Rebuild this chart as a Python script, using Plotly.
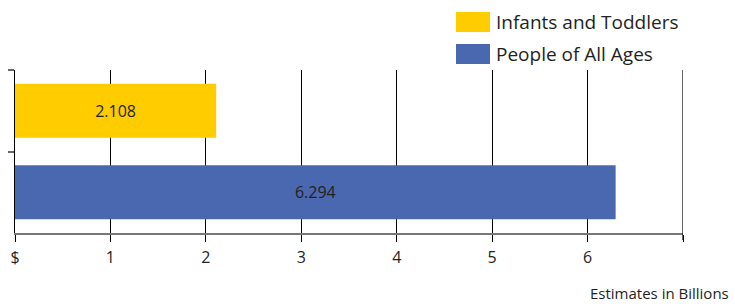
import plotly.graph_objects as go

categories = ["Infants and Toddlers", "People of All Ages"]
values = [2.108, 6.294]
colors = ["#FFCC00", "#4A68B0"]
x_ticks = [0, 1, 2, 3, 4, 5, 6, 7]
x_tick_labels = ["$", "1", "2", "3", "4", "5", "6", ""]

FONT = "Open Sans"
TXT = "#231F20"

L, R, T, B = 15, 52, 70, 71
W, H = 735, 304
PW, PH = W - L - R, H - T - B

fig = go.Figure()
fig.add_trace(go.Bar(
    y=categories, x=values, orientation="h",
    marker=dict(color=colors, line=dict(width=0)),
    text=[f"{v:.3f}" for v in values],
    textposition="inside", insidetextanchor="middle",
    textfont=dict(family=FONT, size=16, color=TXT),
    showlegend=False, hoverinfo="skip",
))

fig.update_layout(
    width=W, height=H,
    margin=dict(l=L, r=R, t=T, b=B, autoexpand=False),
    paper_bgcolor="white", plot_bgcolor="white",
    bargap=0.34,
    font=dict(family=FONT, size=16, color=TXT),
    xaxis=dict(
        range=[x_ticks[0], x_ticks[-1]], tickvals=x_ticks, ticktext=x_tick_labels,
        showgrid=True, gridcolor="black", gridwidth=1,
        zeroline=False,
        showline=True, linecolor="#777777", linewidth=2,
        ticks="outside", ticklen=7, tickcolor="black", tickwidth=1,
        tickfont=dict(family=FONT, size=16, color=TXT),
        ticklabelstandoff=2,
        automargin=False,
    ),
    yaxis=dict(
        type="category", autorange="reversed",
        tickson="boundaries", ticks="outside", ticklen=6,
        tickcolor="#666666", tickwidth=2,
        showticklabels=False, showgrid=False,
        showline=True, linecolor="black", linewidth=1,
        automargin=False,
    ),
)

# gridline at the right end of the axis (plotly omits it at the boundary)
fig.add_shape(type="line", xref="x", yref="paper",
              x0=x_ticks[-1], x1=x_ticks[-1], y0=-7 / PH, y1=1,
              line=dict(color="black", width=1.2))

# Legend drawn as swatches + labels
for i, (name, col) in enumerate(zip(categories, colors)):
    top = 12 + 32 * i
    bot = top + 20
    px0, px1 = (456 - L) / PW, (490 - L) / PW
    py0 = (H - B - bot) / PH
    py1 = (H - B - top) / PH
    fig.add_shape(type="rect", xref="paper", yref="paper",
                  x0=px0, x1=px1, y0=py0, y1=py1,
                  line=dict(width=0), fillcolor=col)
    fig.add_annotation(xref="paper", yref="paper",
                       x=(494 - L) / PW, y=(py0 + py1) / 2,
                       text=name, showarrow=False,
                       xanchor="left", yanchor="middle",
                       font=dict(family=FONT, size=19, color=TXT))

fig.add_annotation(xref="paper", yref="paper",
                   x=(731 - L) / PW, y=(H - B - 293) / PH,
                   text="Estimates in Billions", showarrow=False,
                   xanchor="right", yanchor="middle",
                   font=dict(family=FONT, size=15, color=TXT))

fig.write_html("out.html",
               config={"displayModeBar": False},
               post_script="document.body.style.margin='0';document.body.style.overflow='hidden';")
